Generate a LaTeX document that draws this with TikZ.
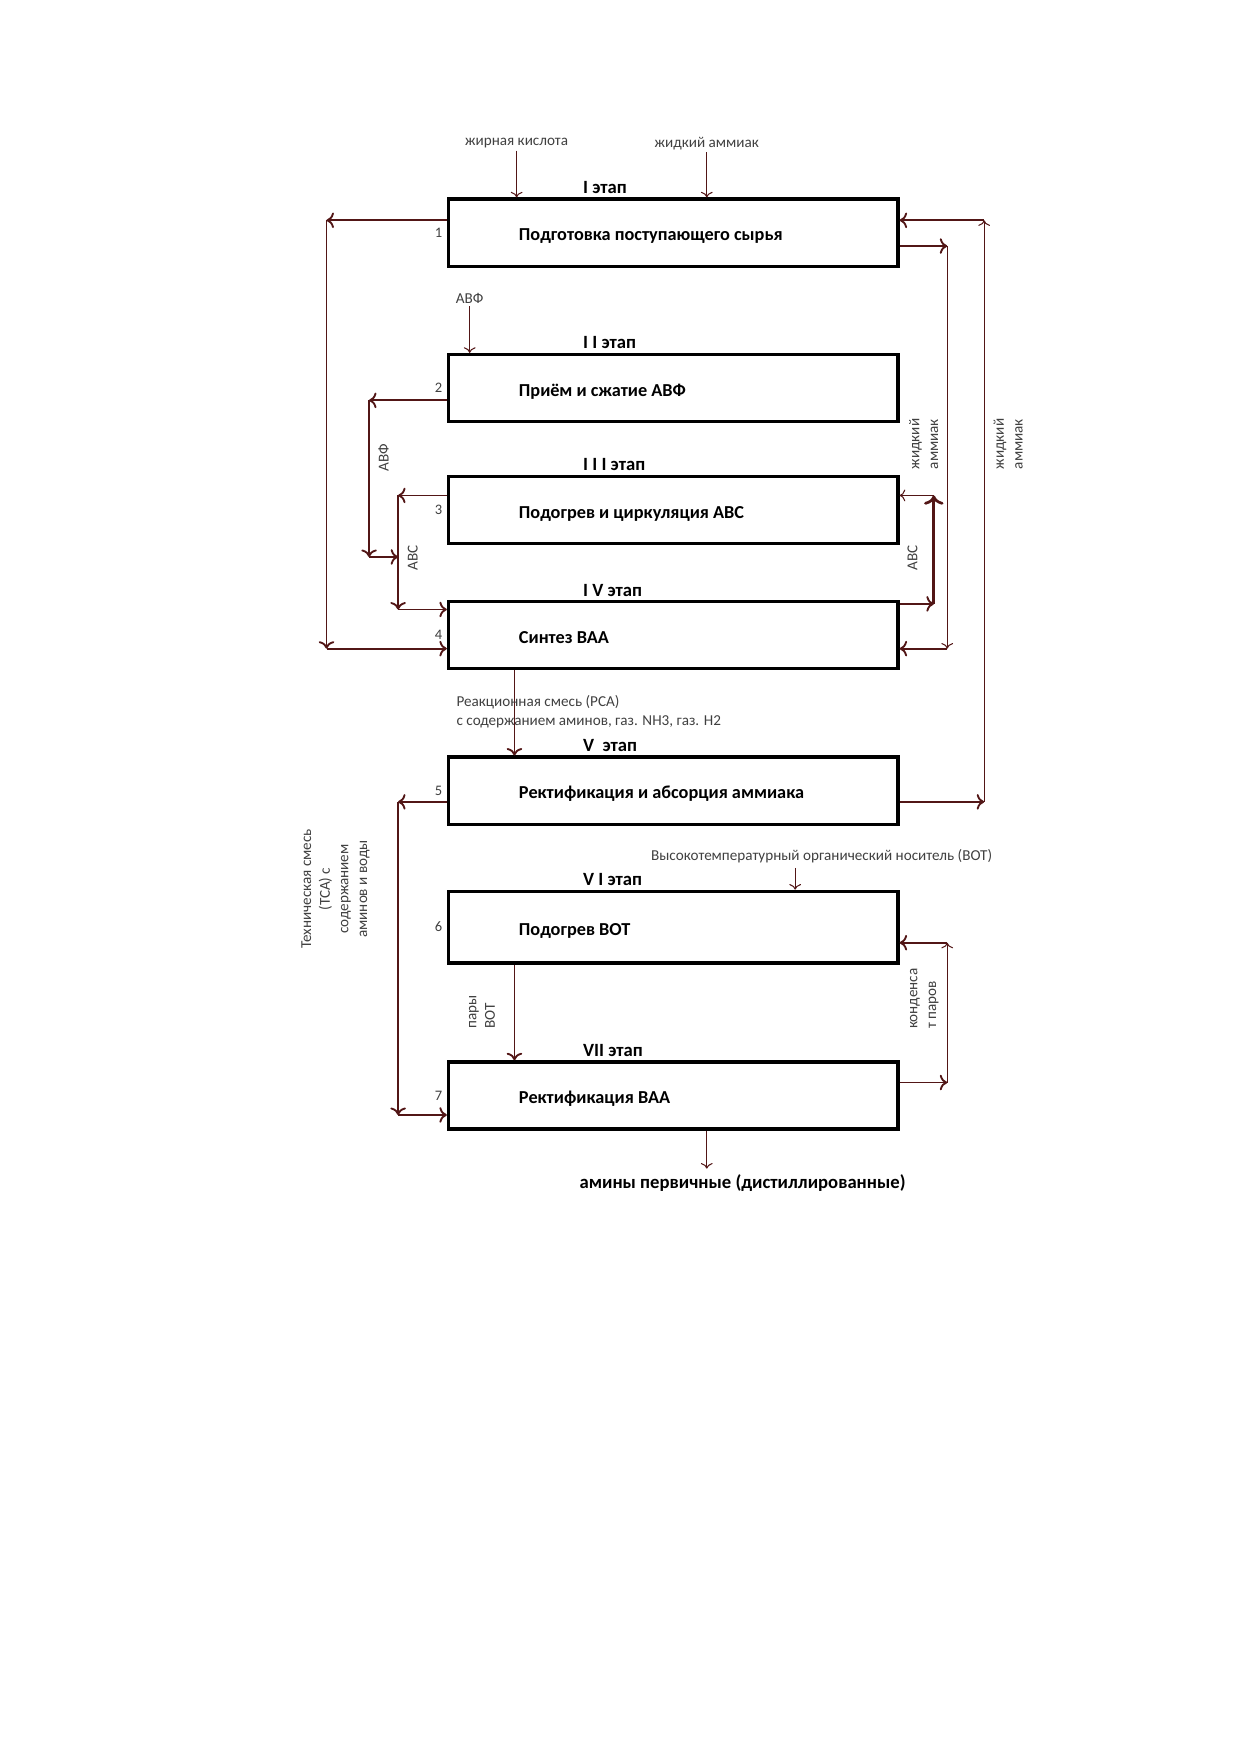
\documentclass[tikz,border=0pt]{standalone}
\usepackage{fontspec}
\setmainfont{Carlito}
\usepackage[HTML]{xcolor}
\usepackage{tikz}
\usetikzlibrary{positioning, arrows, arrows.meta}

\definecolor{flowcol}{HTML}{521616}
\definecolor{lblcol}{HTML}{404040}

\begin{document}
\begin{tikzpicture}[
    box/.style={draw, line width=1.6pt, minimum width=7.612cm, minimum height=1.136cm,
        text width=5.226cm, inner xsep=1.193cm, align=flush left,
        text height=9pt, text depth=1pt,
        font=\bfseries\fontsize{8.8}{11}\selectfont},
    stage/.style={anchor=base west, inner sep=0pt, font=\bfseries\fontsize{9}{11}\selectfont},
    lbl/.style={text=lblcol, inner sep=1pt, font=\fontsize{7.3}{9}\selectfont},
    vlbl/.style={lbl, rotate=90, align=center},
    num/.style={text=lblcol, inner sep=2pt, font=\fontsize{7}{9}\selectfont},
    flow/.style={draw=flowcol, line width=0.9pt},
    thinflow/.style={draw=flowcol, line width=0.5pt}
]
    \useasboundingbox (0,0) rectangle (21,-29.7);

    % 1. The seven stages (boxes at explicit coordinates)
    \node[box] (S1) at (11.400,-3.939) {Подготовка поступающего сырья};
    \node[box] (S2) at (11.400,-6.571) {Приём и сжатие АВФ};
    \node[box] (S3) at (11.400,-8.635) {Подогрев и циркуляция АВС};
    \node[box] (S4) at (11.400,-10.756) {Синтез ВАА};
    \node[box] (S5) at (11.400,-13.388) {Ректификация и абсорция аммиака};
    \node[box, minimum height=1.212cm] (S6) at (11.400,-15.698) {Подогрев ВОТ};
    \node[box] (S7) at (11.400,-18.548) {Ректификация ВАА};

    % stage titles
    \node[stage] (E1) at (9.866,-3.276) {I этап};
    \node[stage] (E2) at (9.866,-5.908) {I I этап};
    \node[stage] (E3) at (9.866,-7.972) {I I I этап};
    \node[stage] (E4) at (9.866,-10.093) {I V этап};
    \node[stage] (E5) at (9.866,-12.725) {V\ \ этап};
    \node[stage] (E6) at (9.866,-14.997) {V I этап};
    \node[stage] (E7) at (9.866,-17.895) {VII этап};

    % stage numbers
    \node[num, left=0pt of S1] (n1) {1};
    \node[num, left=0pt of S2] (n2) {2};
    \node[num, left=0pt of S3] (n3) {3};
    \node[num, left=0pt of S4] (n4) {4};
    \node[num, left=0pt of S5] (n5) {5};
    \node[num, left=0pt of S6] (n6) {6};
    \node[num, left=0pt of S7] (n7) {7};

    % 2. Corner points of the connectors
    \coordinate (A1) at (5.529,-3.730);
    \coordinate (A2) at (5.529,-10.983);
    \coordinate (B1) at (6.249,-6.779);
    \coordinate (B2) at (6.249,-9.430);
    \coordinate (B3) at (6.741,-9.430);
    \coordinate (C1) at (6.741,-8.389);
    \coordinate (C2) at (6.741,-10.320);
    \coordinate (D1) at (6.741,-13.577);
    \coordinate (D2) at (6.741,-18.879);
    \coordinate (R1) at (16.664,-3.730);
    \coordinate (R2) at (16.664,-13.577);
    \coordinate (F1) at (16.039,-4.166);
    \coordinate (F2) at (16.039,-10.983);
    \coordinate (G1) at (15.812,-8.389);
    \coordinate (G2) at (15.812,-10.225);
    \coordinate (H1) at (16.039,-15.963);
    \coordinate (H2) at (16.039,-18.330);
    \coordinate (K1) at (8.711,-12);
    \coordinate (T4) at (13.464,-14.694);
    \coordinate (T5) at (11.968,-19.788);

    % 3. Inputs from above
    \node[lbl] (acid) at (8.748,-2.424) {жирная кислота};
    \node[lbl] (nh3) at (11.968,-2.424) {жидкий аммиак};
    \node[lbl] (avf) at (7.953,-5.056) {АВФ};
    \draw[thinflow, ->] (acid.south) -- (acid.south |- S1.north);
    \draw[thinflow, ->] (nh3.south) -- (nh3.south |- S1.north);
    \draw[thinflow, ->] (avf.south) -- (avf.south |- S2.north);

    % 4. Left side loops
    \draw[flow, ->] (S1.west |- A1) -- (A1);
    \draw[flow, ->] (A1) -- (A2);
    \draw[flow, ->] (A2) -- (S4.west |- A2);

    \draw[flow, ->] (S2.west |- B1) -- (B1);
    \draw[flow, ->] (B1) -- (B2);
    \draw[flow, ->] (B2) -- (B3);
    \node[vlbl] (avf2) at (6.495,-7.745) {АВФ};

    \draw[flow, ->] (S3.west |- C1) -- (C1);
    \draw[flow, ->] (C1) -- (C2);
    \draw[flow, ->] (C2) -- (S4.west |- C2);
    \node[vlbl] (abc1) at (6.987,-9.449) {АВС};

    \draw[flow, ->] (S5.west |- D1) -- (D1);
    \draw[flow, ->] (D1) -- (D2);
    \draw[flow, ->] (D2) -- (S7.west |- D2);
    \node[vlbl] (tsa) at (5.681,-15.054)
        {Техническая смесь\\(ТСА) с\\содержанием\\аминов и воды};

    % 5. Right side loops
    \draw[flow, ->] (S5.east |- R2) -- (R2);
    \draw[thinflow, ->] (R2) -- (R1);
    \draw[flow, ->] (R1) -- (S1.east |- R1);
    \node[vlbl, align=left] (nh3b) at (17.071,-7.518) {жидкий\\аммиак};

    \draw[flow, ->] (S1.east |- F1) -- (F1);
    \draw[thinflow, ->] (F1) -- (F2);
    \draw[flow, ->] (F2) -- (S4.east |- F2);
    \node[vlbl, align=left] (nh3a) at (15.641,-7.518) {жидкий\\аммиак};

    \draw[flow, ->] (S4.east |- G2) -- (G2);
    \draw[flow, line width=1.3pt, ->] (G2) -- (G1);
    \draw[thinflow, ->] (G1) -- (S3.east |- G1);
    \node[vlbl] (abc2) at (15.452,-9.449) {АВС};

    \draw[flow, ->] (S7.east |- H2) -- (H2);
    \draw[thinflow, ->] (H2) -- (H1);
    \draw[flow, ->] (H1) -- (S6.east |- H1);
    \node[vlbl, align=left] (cond) at (15.651,-16.910) {конденса\\т паров};

    % 6. Flows down the middle
    \draw[flow, ->] (K1 |- S4.south) -- (K1 |- S5.north);
    \node[lbl, anchor=west, align=left] (rsa) at (7.688,-12.053)
        {Реакционная смесь (РСА)\\с содержанием аминов, газ. NH3, газ. H2};

    \node[lbl, anchor=west] (vot) at (10.983,-14.505)
        {Высокотемпературный органический носитель (ВОТ)};
    \draw[thinflow, ->] (T4) -- (T4 |- S6.north);

    \draw[flow, ->] (K1 |- S6.south) -- (K1 |- S7.north);
    \node[vlbl, align=left] (vapour) at (8.161,-17.137) {пары\\ВОТ};

    % 7. Product
    \draw[thinflow, ->] (S7.south -| T5) -- (T5);
    \node[font=\bfseries\fontsize{9}{11}\selectfont, inner sep=1pt] (amines) at (12.574,-20.034)
        {амины первичные (дистиллированные)};
\end{tikzpicture}
\end{document}
